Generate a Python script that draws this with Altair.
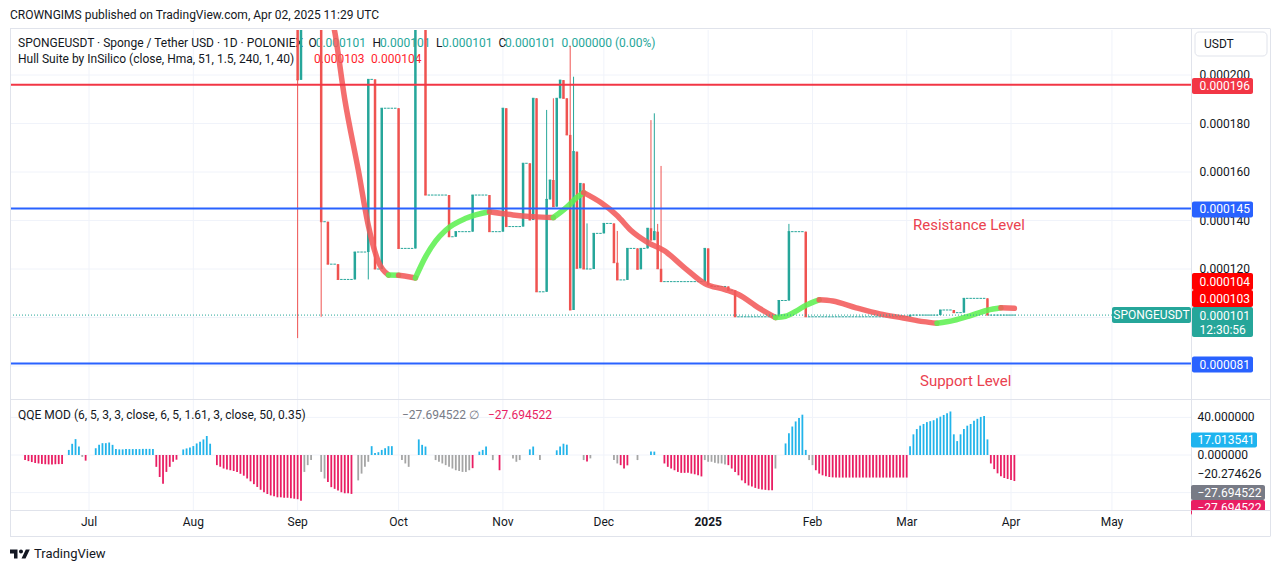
import altair as alt
import pandas as pd

# ============================ DATA ============================
# Prices are in millionths of USDT (0.000101 USDT -> 101)
candle_start = "2024-09-01"
pre_open = 240.0  # Aug 31 close (above the visible range)
closes = [
    198.0, 240.0, 240.0, 240.0, 240.0, 240.0, 240.0,   # Sep 1 - 7
    139.5, 139.5, 122.0, 122.0, 122.0, 115.7, 115.7,   # Sep 8 - 14
    115.7, 115.7, 115.7, 127.0, 127.0, 127.0, 127.0,   # Sep 15 - 21
    198.2, 198.2, 120.0, 120.0, 186.3, 186.3, 186.3,   # Sep 22 - 28
    186.3, 186.3, 128.5, 128.5, 128.5, 128.5, 128.5,   # Sep 29 - Oct 5
    240.0, 240.0, 240.0, 150.5, 150.5, 150.5, 150.5,   # Oct 6 - 12
    150.5, 150.5, 150.5, 133.3, 133.3, 135.4, 135.4,   # Oct 13 - 19
    135.4, 135.4, 135.4, 150.5, 150.5, 150.5, 150.5,   # Oct 20 - 26
    150.5, 135.4, 135.4, 135.4, 135.4, 186.3, 137.5,   # Oct 27 - Nov 2
    137.5, 137.5, 137.5, 137.5, 163.6, 163.6, 140.2,   # Nov 3 - 9
    190.4, 110.6, 110.6, 110.6, 148.7, 156.7, 145.7,   # Nov 10 - 16
    190.4, 197.9, 190.4, 175.3, 103.1, 168.4, 120.3,   # Nov 17 - 23
    155.3, 120.0, 120.0, 120.0, 134.7, 134.7, 134.7,   # Nov 24 - 30
    138.8, 138.8, 138.8, 122.6, 115.5, 115.5, 115.5,   # Dec 1 - 7
    128.5, 128.5, 128.5, 119.9, 128.5, 128.5, 136.8,   # Dec 8 - 14
    131.9, 135.4, 120.1, 114.8, 114.8, 114.8, 114.8,   # Dec 15 - 21
    114.8, 114.8, 114.8, 114.8, 114.8, 114.8, 114.8,   # Dec 22 - 28
    114.8, 114.8, 128.5, 113.4, 112.8, 112.8, 112.8,   # Dec 29 - Jan 4
    112.8, 112.8, 111.2, 111.2, 100.3, 100.3, 100.3,   # Jan 5 - 11
    100.3, 100.3, 100.3, 100.3, 100.3, 100.3, 100.3,   # Jan 12 - 18
    100.3, 100.3, 100.3, 107.0, 107.0, 107.0, 135.4,   # Jan 19 - 25
    135.4, 135.4, 135.4, 135.4, 100.3, 100.3, 100.3,   # Jan 26 - Feb 1
    100.3, 100.3, 100.3, 100.3, 100.3, 100.3, 100.3,   # Feb 2 - 8
    100.3, 100.3, 100.3, 100.3, 100.3, 100.3, 100.3,   # Feb 9 - 15
    100.3, 100.3, 100.3, 100.3, 100.3, 100.3, 100.3,   # Feb 16 - 22
    100.3, 100.3, 100.3, 100.3, 100.3, 100.3, 100.3,   # Feb 23 - Mar 1
    101.0, 101.0, 101.0, 101.0, 101.0, 101.0, 101.0,   # Mar 2 - 8
    101.0, 101.0, 103.1, 103.1, 103.1, 103.1, 102.0,   # Mar 9 - 15
    102.0, 102.0, 107.9, 107.9, 107.9, 107.9, 107.9,   # Mar 16 - 22
    107.9, 107.9, 101.0, 101.0, 101.0, 101.0, 101.0,   # Mar 23 - 29
    101.0, 101.0, 101.0, 101.0,                        # Mar 30 - Apr 2
]
wick_idx = [0, 7, 21, 74, 76, 81, 82, 86, 95, 105, 106, 107, 108, 146]
wick_high = [240, 240, 198.2, 185.6, 190.4, 212, 199.3, 138.8, 135.7, 181.4, 184.2, 138.6, 162.5, 138.6]
wick_low = [91.5, 100.3, 115.7, 110.6, 145.7, 103.1, 103.1, 120, 115.5, 131.9, 131.9, 120.1, 114.8, 107]

hull_dates = ["2024-09-07", "2024-09-12", "2024-09-15", "2024-09-19", "2024-09-22", "2024-09-25",
              "2024-09-28", "2024-10-01", "2024-10-04", "2024-10-06", "2024-10-09", "2024-10-12",
              "2024-10-15", "2024-10-21", "2024-10-28", "2024-11-04", "2024-11-10", "2024-11-16",
              "2024-11-20", "2024-11-23", "2024-11-25", "2024-11-30", "2024-12-05", "2024-12-09",
              "2024-12-14", "2024-12-19", "2024-12-25", "2024-12-31", "2025-01-06", "2025-01-10",
              "2025-01-16", "2025-01-21", "2025-01-24", "2025-01-27", "2025-01-30", "2025-02-03",
              "2025-02-07", "2025-02-14", "2025-02-21", "2025-02-28", "2025-03-06", "2025-03-10",
              "2025-03-15", "2025-03-20", "2025-03-25", "2025-03-29", "2025-04-02"]
hull_vals = [240, 218, 190, 161, 138, 123, 117.5, 117.4, 116.8, 116.3, 125, 131.5,
             136, 140.9, 143.6, 142.3, 141.6, 141.2, 145.5, 149.5, 151.5, 147.5, 142, 136,
             131, 127.5, 120.5, 114, 111.5, 109.5, 104, 100, 100.5, 102.5, 105, 107.3,
             106.8, 104, 101.5, 99.8, 98.3, 97.6, 98.8, 100.8, 103, 104, 103.8]
hull_dir = ["r", "r", "r", "r", "r", "r", "r", "g", "r", "r", "g", "g", "g", "g", "g", "r",
            "r", "r", "g", "g", "g", "r", "r", "r", "r", "r", "r", "r", "r", "r", "r", "r",
            "g", "g", "g", "g", "r", "r", "r", "r", "r", "r", "g", "g", "g", "g", "r"]

resistance_top = 196
resistance = 145
support = 81
last_close = 101

qqe_starts = ["2024-06-12", "2024-06-25", "2024-06-29", "2024-06-30", "2024-07-03", "2024-07-21",
              "2024-07-29", "2024-08-08", "2024-09-03", "2024-09-08", "2024-09-10", "2024-09-19",
              "2024-09-23", "2024-10-02", "2024-10-07", "2024-10-12", "2024-10-23", "2024-10-25",
              "2024-10-29", "2024-10-31", "2024-11-04", "2024-11-09", "2024-11-12", "2024-11-17",
              "2024-11-25", "2024-11-26", "2024-11-27", "2024-12-04", "2024-12-06", "2024-12-11",
              "2024-12-15", "2024-12-19", "2024-12-31", "2025-01-07", "2025-01-21", "2025-01-24",
              "2025-01-31", "2025-02-02", "2025-03-02", "2025-03-26"]
qqe_kinds = ["pink", "blue", "grey", "pink", "blue", "pink", "blue", "pink", "grey", "grey",
             "pink", "grey", "blue", "grey", "blue", "grey", "pink", "blue", "grey", "pink",
             "grey", "blue", "grey", "blue", "grey", "pink", "grey", "grey", "pink", "grey",
             "blue", "pink", "grey", "pink", "grey", "blue", "grey", "pink", "blue", "pink"]
qqe_vals = [
    [-5.4, -6.5, -7.5, -8.5, -9, -9.5, -9.8, -10, -10, -9.8, -9.7, -9.5],
    [5.4, 11.9, 16.9, 9],
    [-2],
    [-6],
    [7.2, 10.8, 12.6, 12.6, 13.3, 10.8, 6.5, 6, 6, 6.3, 6.3, 6.3, 6.3, 6.3, 6.5, 6.5, 6.5, 6.5],
    [-12.6, -23.4, -30.6, -18, -12.6, -7.2, -5],
    [5.9, 7, 8, 9.5, 12.3, 14.1, 16.6, 20.2, 12],
    [-10.8, -12.5, -14.4, -15.3, -16.2, -17, -18, -20, -22, -25, -28, -31, -34, -37, -39.6,
     -41.5, -43, -44, -45, -45, -45.5, -45.5, -46, -46.5, -47, -48.6],
    [-18, -10.8, -5.4],
    [-18, -25],
    [-28.8, -34.2, -36, -37.8, -39.6, -40.7, -40.7, -41.4],
    [-27, -19.8, -12.6, -7.2],
    [9.4, 2.2, 3, 5.4, 7.2, 9.4, 9.4],
    [-5.4, -9, -12.6],
    [16.6, 10.8, 9],
    [-5.4, -7.2, -9, -10.8, -12.6, -14.4, -16.2, -17, -18, -18, -16.2],
    [-14],
    [3.6, 5.4, 9],
    [-5.4],
    [-16.2],
    [-3.6, -7.2, -5.4],
    [6, 9],
    [-5.4],
    [5, 9, 12, 11],
    [-5.4],
    [-7],
    [-3.6],
    [-5.4, -9],
    [-10.8, -14.4, -11],
    [-5.4],
    [3.6, 3.6],
    [-9, -12.6, -14.4, -16.2, -18, -19, -19, -19, -19.8, -20.5, -21.6, -22.8],
    [-5.4, -7.2, -7.2, -8.3, -9, -9, -10],
    [-10.8, -14.4, -18, -21.6, -27, -30, -32.4, -33.5, -35, -36, -36.8, -37.1, -37.5, -37.5],
    [-14.4],
    [12.3, 23.1, 30.3, 35.7, 39.3, 42.9, 5.4],
    [-5.4, -10.8],
    [-16.2, -19.8, -21.6, -22.7, -23.4, -23.8, -24, -24, -24, -24, -24, -24, -24, -24,
     -24, -24, -24, -24, -24, -24, -24, -24, -24, -24, -24, -24, -24, -24],
    [9.4, 22, 27.6, 31.2, 33, 35, 36, 37, 39, 40.8, 42.6, 44.4, 46.3, 22, 14.8, 22,
     27.6, 31.2, 33, 36.5, 38.5, 40.5, 41.5, 16.6],
    [-9, -15, -19.5, -22.5, -24.5, -25.5, -26.5, -27.694522],
]

price_ticks = [200, 180, 160, 140, 120]
price_grid = [80, 100, 120, 140, 160, 180, 200]
qqe_grid = [-40, 0, 40]
qqe_ticks = [40, 0, -20.274626]
qqe_tick_labels = ["40.000000", "0.000000", "\u221220.274626"]
qqe_signal = 17.013541
qqe_last = -27.694522

months = ["2024-07-01", "2024-08-01", "2024-09-01", "2024-10-01", "2024-11-01", "2024-12-01",
          "2025-01-01", "2025-02-01", "2025-03-01", "2025-04-01", "2025-05-01"]
month_labels = ["Jul", "Aug", "Sep", "Oct", "Nov", "Dec", "2025", "Feb", "Mar", "Apr", "May"]

# ============================ STYLE / SCALES ============================
FONT = "Roboto"
INK = "#131722"
UP, DOWN = "#26a69a", "#ef5350"
HULL_RED, HULL_GREEN = "#f25a5a", "#5ff052"
QQE_COL = {"pink": "#e91e63", "blue": "#22b4ea", "grey": "#a5a5a5"}
GRID = "#f0f3fa"
FRAME = "#e0e3eb"
W, H = 1181, 480
PXD = 3.365
DAY = 86400000


def ms(s):
    return int(pd.Timestamp(s, tz="UTC").value // 10**6)


T0 = ms("2024-07-01")
xs = alt.Scale(type="utc", domain=[T0 - 79 / PXD * DAY, T0 + 1102 / PXD * DAY])
ps = alt.Scale(domain=[20.62, 218.56], nice=False, zero=False)
qs = alt.Scale(domain=[-58.51, 452.13], nice=False, zero=False)


def X(f="t"):
    return alt.X(f"{f}:T", scale=xs, axis=None)


def PY(f="v"):
    return alt.Y(f"{f}:Q", scale=ps, axis=None)


def QY(f="v"):
    return alt.Y(f"{f}:Q", scale=qs, axis=None)


one = pd.DataFrame({"a": [0]})


def text_at(s, x, y, color=INK, size=12, weight="normal", align="left"):
    return alt.Chart(one).mark_text(text=s, align=align, baseline="middle", font=FONT,
                                    fontSize=size, fontWeight=weight, color=color
                                    ).encode(x=alt.value(x), y=alt.value(y))


def hline_px(x1, x2, y, color=FRAME):
    return alt.Chart(one).mark_rule(color=color, strokeWidth=1).encode(
        x=alt.value(x1), x2=alt.value(x2), y=alt.value(y))


def vline_px(x, y1, y2, color=FRAME):
    return alt.Chart(one).mark_rule(color=color, strokeWidth=1).encode(
        x=alt.value(x), y=alt.value(y1), y2=alt.value(y2))


# ============================ TABLES ============================
hi_map = dict(zip(wick_idx, wick_high))
lo_map = dict(zip(wick_idx, wick_low))
rows = []
prev = pre_open
t_start = ms(candle_start)
for i, c in enumerate(closes):
    o = prev
    h = hi_map.get(i, max(o, c))
    l = lo_map.get(i, min(o, c))
    rows.append({"t": t_start + i * DAY, "o": o, "c": c, "h": h, "l": l,
                 "col": UP if c >= o else DOWN})
    prev = c
cdf = pd.DataFrame(rows)

# hull: one smooth path per run of equal colour (runs share their boundary points)
hrows = []
k = 1
run = 0
n = len(hull_dates)
while k < n:
    d = hull_dir[k]
    start = k - 1
    while k < n and hull_dir[k] == d:
        k += 1
    col = HULL_RED if d == "r" else HULL_GREEN
    for j in range(start, k):
        hrows.append({"seg": run, "t": ms(hull_dates[j]), "v": hull_vals[j], "col": col})
    run += 1
hdf = pd.DataFrame(hrows)

qrows = []
for s, kind, vals in zip(qqe_starts, qqe_kinds, qqe_vals):
    for j, v in enumerate(vals):
        qrows.append({"t": ms(s) + j * DAY, "q": v, "z": 0, "col": QQE_COL[kind]})
qdf = pd.DataFrame(qrows)

mdf = pd.DataFrame({"t": [ms(m) for m in months], "lab": month_labels})

# ============================ LAYERS ============================
layers = []

# grid
layers.append(alt.Chart(mdf).mark_rule(color=GRID, strokeWidth=1).encode(
    x=X(), y=alt.value(0), y2=alt.value(480)))
layers.append(alt.Chart(pd.DataFrame({"v": price_grid})).mark_rule(color=GRID).encode(
    y=PY(), x=alt.value(0), x2=alt.value(W)))
layers.append(alt.Chart(pd.DataFrame({"v": qqe_grid})).mark_rule(color=GRID).encode(
    y=QY(), x=alt.value(0), x2=alt.value(W)))

# legends (drawn under candles)
layers += [
    text_at("SPONGEUSDT \u00b7 Sponge / Tether USD \u00b7 1D \u00b7 POLONIEX", 8, 12.7),
    text_at("O", 298.5, 12.7), text_at("0.000101", 305.7, 12.7, UP),
    text_at("H", 362.5, 12.7), text_at("0.000101", 370, 12.7, UP),
    text_at("L", 426, 12.7), text_at("0.000101", 432, 12.7, UP),
    text_at("C", 488.5, 12.7), text_at("0.000101", 495, 12.7, UP),
    text_at("0.000000 (0.00%)", 551.6, 12.7, UP),
    text_at("Hull Suite by InSilico (close, Hma, 51, 1.5, 240, 1, 40)", 8, 29.3),
    text_at("0.000103", 304, 29.3, "#ff1f2d"), text_at("0.000104", 361, 29.3, "#ff1f2d"),
    text_at("QQE MOD (6, 5, 3, 3, close, 6, 5, 1.61, 3, close, 50, 0.35)", 8, 385),
    text_at("\u221227.694522", 392, 385, "#787b86"),
    text_at("\u2205", 459, 385, "#787b86"),
    text_at("\u221227.694522", 478, 385, "#e91e63"),
]

# candles
layers.append(alt.Chart(cdf).mark_rule(strokeWidth=1, clip=True).encode(
    x=X(), y=PY("l"), y2="h:Q", color=alt.Color("col:N", scale=None)))
layers.append(alt.Chart(cdf).mark_rule(strokeWidth=2.5, clip=True).encode(
    x=X(), y=PY("o"), y2="c:Q", color=alt.Color("col:N", scale=None)))
layers.append(alt.Chart(cdf).mark_tick(orient="horizontal", size=2.5, thickness=1,
                                       opacity=1, clip=True).encode(
    x=X(), y=PY("c"), color=alt.Color("col:N", scale=None)))

# hull
layers.append(alt.Chart(hdf).mark_line(strokeWidth=5.5, strokeCap="round", strokeJoin="round",
                                       opacity=0.88, clip=True, interpolate="monotone").encode(
    x=X(), y=PY("v"), detail="seg:N", color=alt.Color("col:N", scale=None)))

# horizontal levels
layers.append(alt.Chart(pd.DataFrame({"v": [resistance_top]})).mark_rule(
    color="#f23645", strokeWidth=2).encode(y=PY(), x=alt.value(0), x2=alt.value(W)))
layers.append(alt.Chart(pd.DataFrame({"v": [resistance, support]})).mark_rule(
    color="#2962ff", strokeWidth=2).encode(y=PY(), x=alt.value(0), x2=alt.value(W)))
layers.append(alt.Chart(pd.DataFrame({"v": [last_close]})).mark_rule(
    color=UP, strokeWidth=1, strokeDash=[1, 2]).encode(y=PY(), x=alt.value(0), x2=alt.value(1102)))

# QQE histogram
layers.append(alt.Chart(qdf).mark_rule(strokeWidth=1.8).encode(
    x=X(), y=QY("q"), y2="z:Q", color=alt.Color("col:N", scale=None)))

# annotations
layers.append(text_at("Resistance Level", 903, 195, "#ea4250", 15))
layers.append(text_at("Support Level", 910, 351, "#ea4250", 15))

# frame & separators
layers += [
    hline_px(0, 1260, -1.5), hline_px(0, 1260, 369.5), hline_px(0, 1260, 480.5),
    hline_px(0, 1260, 506.5), vline_px(0.5, -1.5, 506.5), vline_px(1181.5, -1.5, 506.5),
    vline_px(1260.5, -1.5, 506.5),
]

# right axis tick labels
layers.append(alt.Chart(pd.DataFrame({"v": price_ticks,
                                      "lab": [f"{v / 1e6:.6f}" for v in price_ticks]})).mark_text(
    align="left", baseline="middle", font=FONT, fontSize=12, color=INK).encode(
    x=alt.value(1189.5), y=PY(), text="lab:N"))
layers.append(alt.Chart(pd.DataFrame({"v": qqe_ticks, "lab": qqe_tick_labels})).mark_text(
    align="left", baseline="middle", font=FONT, fontSize=12, color=INK).encode(
    x=alt.value(1187.5), y=QY(), text="lab:N"))


def box(val, yfun, color, width, height, cx, shift, lines, tx):
    df = pd.DataFrame({"v": [val]})
    out = [alt.Chart(df).mark_tick(orient="horizontal", size=width, thickness=height, color=color,
                                   opacity=1, yOffset=shift, cornerRadius=2).encode(
        x=alt.value(cx), y=yfun())]
    for s, dy in lines:
        out.append(alt.Chart(df).mark_text(text=s, align="left", baseline="middle", font=FONT,
                                           fontSize=12, color="white", dy=dy).encode(
            x=alt.value(tx), y=yfun()))
    return out


layers += box(resistance_top, PY, "#f23645", 61, 16, 1212.5, 1.3, [("0.000196", 1.3)], 1189.5)
layers += box(resistance, PY, "#2962ff", 61, 16, 1212.5, 1, [("0.000145", 1)], 1189.5)
layers += box(104, PY, "#ff0000", 61, 17, 1212.5, -26.3, [("0.000104", -26.3)], 1189.5)
layers += box(103, PY, "#ff0000", 61, 17, 1212.5, -11.7, [("0.000103", -11.7)], 1189.5)
layers += box(last_close, PY, UP, 61, 30, 1212.5, 7, [("0.000101", 1), ("12:30:56", 15)], 1189.5)
layers += box(support, PY, "#2962ff", 61, 16, 1212.5, 1, [("0.000081", 1)], 1189.5)
layers += box(last_close, PY, UP, 79, 16, 1141.5, 0, [], 0)
layers.append(alt.Chart(pd.DataFrame({"v": [last_close]})).mark_text(
    text="SPONGEUSDT", align="center", baseline="middle", font=FONT, fontSize=12,
    color="white").encode(x=alt.value(1141.5), y=PY()))
layers += box(qqe_signal, QY, "#1eb4ef", 66, 15, 1214, 1, [("17.013541", 1)], 1187.5)
layers += box(qqe_last, QY, "#787b86", 74, 15, 1218, 11.5, [("\u221227.694522", 11.5)], 1187.5)
layers += box(qqe_last, QY, "#e91e63", 74, 15, 1218, 26.5, [("\u221227.694522", 26.5)], 1187.5)

# cover below the indicator pane on the price scale column
layers.append(alt.Chart(one).mark_rect(color="white").encode(
    x=alt.value(1182), x2=alt.value(1260), y=alt.value(481), y2=alt.value(506)))
layers.append(hline_px(1181.5, 1260, 480.5))

# USDT box
layers.append(alt.Chart(one).mark_rect(fill="white", stroke=FRAME, cornerRadius=4).encode(
    x=alt.value(1185), x2=alt.value(1257), y=alt.value(2), y2=alt.value(26)))
layers.append(text_at("USDT", 1194, 14))

# date labels
layers.append(alt.Chart(mdf[mdf.lab != "2025"]).mark_text(
    align="center", baseline="middle", font=FONT, fontSize=12, color=INK).encode(
    x=X(), y=alt.value(492), text="lab:N"))
layers.append(alt.Chart(mdf[mdf.lab == "2025"]).mark_text(
    align="center", baseline="middle", font=FONT, fontSize=12, fontWeight="bold", color=INK).encode(
    x=X(), y=alt.value(492), text="lab:N"))

# header + logo
layers.append(text_at("CROWNGIMS published on TradingView.com, Apr 02, 2025 11:29 UTC", 0, -15))
logo = ("M -1 -0.45 H -0.25 V 0.45 H -0.6 V -0.05 H -1 Z "
        "M 0.15 0.45 L 0.55 0.45 L 0.98 -0.45 L 0.58 -0.45 Z "
        "M -0.1 -0.25 A 0.2 0.2 0 1 0 0.3 -0.25 A 0.2 0.2 0 1 0 -0.1 -0.25 Z")
layers.append(alt.Chart(one).mark_point(shape=logo, filled=True, size=400, color=INK,
                                        opacity=1).encode(x=alt.value(10), y=alt.value(524)))
layers.append(text_at("TradingView", 24, 524, INK, 13))

chart = alt.layer(*layers).resolve_scale(y="independent").properties(
    width=W, height=H,
    autosize=alt.AutoSizeParams(type="none"),
    padding={"left": 2, "top": 22, "right": 82, "bottom": 53},
    background="white",
).configure_view(stroke=None)

chart.save("out.html", embed_options={"renderer": "svg", "actions": False})
